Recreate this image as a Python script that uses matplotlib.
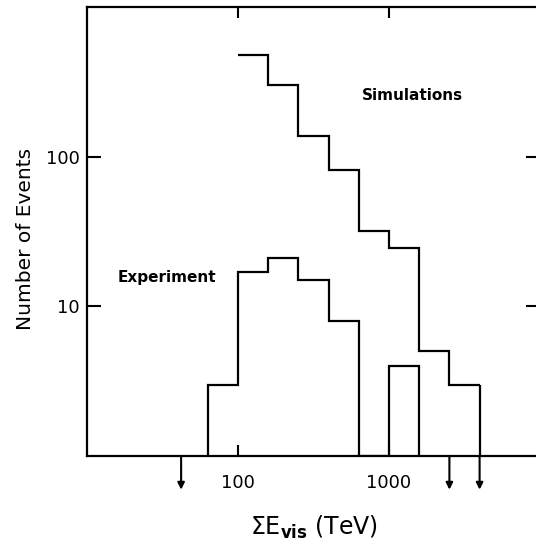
import matplotlib
matplotlib.use("Agg")
import matplotlib.pyplot as plt

# ---- data ----
bin_edges = [63, 100, 158, 251, 398, 631, 1000, 1585, 2512, 3981]
sim_edges = bin_edges[1:]
sim_counts = [480, 300, 138, 82, 32, 24.5, 5, 3]
exp_edges = bin_edges[:8]
exp_counts = [3, 17, 21, 15, 8, 0, 4]
arrow_x = [42, 2512, 3981]
xtick_vals = [100, 1000]
xtick_labels = ["100", "1000"]
ytick_vals = [10, 100]
ytick_labels = ["10", "100"]

W, H = 536, 548
fig = plt.figure(figsize=(W / 100, H / 100), dpi=100)
plt.rcParams['font.family'] = ['DejaVu Sans']

left, bottom_px, top_px, dec_px = 87, 456, 7, 151
ax = fig.add_axes([left / W, (H - bottom_px) / H, 3 * dec_px / W, (bottom_px - top_px) / H])
ax.set_xscale('log')
ax.set_yscale('log')
ax.set_xlim(10, 1e4)
ax.set_ylim(1, 1000)

lw = 1.6
ymin = ax.get_ylim()[0]
# simulations
ax.stairs(sim_counts, sim_edges, baseline=None, color='black', linewidth=lw)
ax.vlines(sim_edges[-1], ymin, sim_counts[-1], color='black', linewidth=lw)
# experiment (empty bin drawn along the bottom)
exp_vals = [c if c > 0 else ymin for c in exp_counts]
ax.stairs(exp_vals, exp_edges, baseline=ymin, color='black', linewidth=lw)

# arrows below the axis
for xa in arrow_x:
    ax.annotate('', xy=(xa, -0.075), xytext=(xa, 0.0),
                xycoords=('data', 'axes fraction'),
                arrowprops=dict(arrowstyle='-|>', color='black', lw=1.5,
                                mutation_scale=10, shrinkA=0, shrinkB=0),
                annotation_clip=False)

for s in ['left', 'top', 'bottom']:
    ax.spines[s].set_linewidth(1.6)
ax.spines['right'].set_visible(False)

ax.minorticks_off()
ax.set_xticks(xtick_vals)
ax.set_xticklabels(xtick_labels)
ax.set_yticks(ytick_vals)
ax.set_yticklabels(ytick_labels)
ax.minorticks_off()
ax.tick_params(axis='x', which='major', direction='in', top=True, bottom=True,
               length=8, width=1.5, pad=13, labelsize=13)
ax.tick_params(axis='y', which='major', direction='in', left=True, right=True,
               length=10, width=1.5, pad=5, labelsize=13)

ax.text(1419, 258, 'Simulations', ha='center', va='center', fontsize=11, fontweight='bold')
ax.text(33.9, 15.7, 'Experiment', ha='center', va='center', fontsize=11, fontweight='bold')

fig.text(26 / W, 1 - 239 / H, 'Number of Events', rotation=90, ha='center', va='center', fontsize=14.5)
fig.text(314 / W, 1 - 527 / H, r'$\Sigma$E$_{\mathbf{vis}}$ (TeV)', ha='center', va='center', fontsize=17)

fig.savefig('out.png', dpi=100)
